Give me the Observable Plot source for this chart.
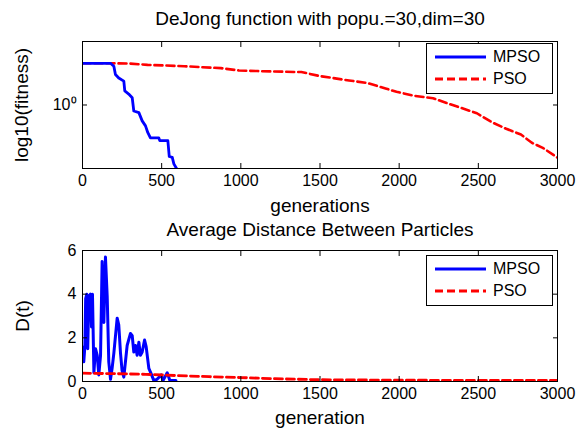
<!DOCTYPE html>
<html>
<head>
<meta charset="utf-8">
<script src="https://cdn.jsdelivr.net/npm/d3@7"></script>
<script src="https://cdn.jsdelivr.net/npm/@observablehq/plot@0.6"></script>
<style>
  body { margin: 0; background: #fff; }
  #wrap { position: relative; width: 576px; height: 430px; background: #fff; font-family: "Liberation Sans", Arial, sans-serif; color: #000; }
  .abs { position: absolute; white-space: nowrap; }
  .title { font-size: 19px; transform: translate(-50%, -50%); }
  .xlab { font-size: 19px; transform: translate(-50%, -50%); }
  .ylab { font-size: 19px; transform: translate(-50%, -50%) rotate(-90deg); }
  .legend { position: absolute; border: 1px solid #000; background: #fff; box-sizing: border-box; }
  .legend .row { position: absolute; left: 8px; font-size: 16px; display: flex; align-items: center; }
  .legend svg { display: block; margin-right: 6px; }
  .plot { position: absolute; left: 0; }
</style>
</head>
<body>
<div id="wrap"></div>
<script>
// ---- data: top panel (fitness, log scale) ----
const mpsoFitGen = [0,177,198,208,229,261,267,292,314,324,356,377,398,412,429,482,488,539,548,567,577,594,605];
const mpsoFit    = [2.13,2.13,2.02,1.74,1.63,1.54,1.29,1.22,1.14,0.897,0.871,0.750,0.685,0.608,0.550,0.550,0.524,0.524,0.393,0.387,0.344,0.316,0.29];
const psoFitGen  = [0,180,296,411,642,874,989,1105,1336,1382,1498,1567,1683,1798,1914,1983,2098,2214,2306,2399,2491,2584,2676,2769,2838,2907,3000];
const psoFit     = [2.13,2.13,2.12,2.07,2.02,1.95,1.87,1.85,1.82,1.82,1.69,1.64,1.56,1.49,1.35,1.27,1.18,1.13,1.03,0.942,0.861,0.733,0.650,0.585,0.504,0.460,0.385];

// ---- data: bottom panel (average distance D(t)) ----
const mpsoDGen = [0,4,8,15,20,27,33,40,50,57,63,72,82,93,103,114,124,135,145,156,166,177,187,198,219,229,240,250,261,282,303,314,324,335,345,356,366,377,392,402,419,434,450,471,497,509,535,552,590];
const mpsoD    = [1.2,1.57,0.9,1.6,3.8,4.0,1.5,3.9,4.0,2.5,4.0,0.4,1.5,1.2,0.3,1.2,5.5,2.7,5.7,3.9,0.9,0.1,0.6,1.3,2.9,2.6,1.3,0.5,0.2,1.65,2.2,2.1,1.35,1.65,1.2,1.8,1.2,1.35,1.9,1.6,0.6,0.35,0.05,0.1,0.3,0.05,0.4,0.05,0.05];
const psoDGen  = [0,200,400,600,800,1000,1200,1500,2000,2500,3000];
const psoD     = [0.38,0.36,0.33,0.27,0.22,0.18,0.13,0.08,0.06,0.05,0.05];

// ---- text ----
const title1 = "DeJong function with popu.=30,dim=30";
const title2 = "Average Distance Between Particles";
const xLabel1 = "generations";
const xLabel2 = "generation";
const yLabel1 = "log10(fitness)";
const yLabel2 = "D(t)";
const seriesNames = ["MPSO", "PSO"];
const xTicks = [0,500,1000,1500,2000,2500,3000];
const yTicks1 = [1];
const yTicks2 = [0,2,4,6];

const zip = (xs, ys) => xs.map((x, i) => ({x, y: ys[i]}));
const blue = "#0000ff", red = "#ff0000";
const font = "Liberation Sans, Arial, sans-serif";

function inwardAxes(yTicks, yFmt) {
  return [
    Plot.axisX(xTicks, {anchor: "bottom", tickSize: -5, tickFormat: () => "", stroke: "#000", label: null}),
    Plot.axisX(xTicks, {anchor: "top", tickSize: -5, tickFormat: () => "", stroke: "#000", label: null}),
    Plot.axisX(xTicks, {anchor: "bottom", tickSize: 0, tickPadding: 6, tickFormat: d => String(d), fontSize: 16, fill: "#000", label: null}),
    Plot.axisY(yTicks, {anchor: "left", tickSize: -5, tickFormat: () => "", stroke: "#000", label: null}),
    Plot.axisY(yTicks, {anchor: "right", tickSize: -5, tickFormat: () => "", stroke: "#000", label: null}),
    Plot.axisY(yTicks, {anchor: "left", tickSize: 0, tickPadding: 6, tickFormat: yFmt, fontSize: 16, fill: "#000", label: null})
  ];
}

const topPlot = Plot.plot({
  width: 576, height: 215,
  marginLeft: 82, marginRight: 19, marginTop: 41, marginBottom: 47,
  style: {fontFamily: font, background: "transparent", overflow: "visible"},
  x: {domain: [0, 3000]},
  y: {type: "log", domain: [0.3162, 3.162]},
  marks: [
    Plot.line(zip(psoFitGen, psoFit), {x: "x", y: "y", stroke: red, strokeWidth: 2.6, strokeDasharray: "8,4", clip: true}),
    Plot.line(zip(mpsoFitGen, mpsoFit), {x: "x", y: "y", stroke: blue, strokeWidth: 2.8, clip: true}),
    Plot.frame({stroke: "#000", strokeWidth: 1}),
    ...inwardAxes(yTicks1, () => "10⁰")
  ]
});

const bottomPlot = Plot.plot({
  width: 576, height: 215,
  marginLeft: 82, marginRight: 19, marginTop: 35, marginBottom: 49,
  style: {fontFamily: font, background: "transparent", overflow: "visible"},
  x: {domain: [0, 3000]},
  y: {domain: [0, 6]},
  marks: [
    Plot.line(zip(mpsoDGen, mpsoD), {x: "x", y: "y", stroke: blue, strokeWidth: 3, clip: true}),
    Plot.line(zip(psoDGen, psoD), {x: "x", y: "y", stroke: red, strokeWidth: 2.8, strokeDasharray: "8,4", clip: true}),
    Plot.frame({stroke: "#000", strokeWidth: 1}),
    ...inwardAxes(yTicks2, d => String(d))
  ]
});

const wrap = document.getElementById("wrap");
topPlot.classList.add("plot"); topPlot.style.top = "0px";
bottomPlot.classList.add("plot"); bottomPlot.style.top = "215px";
wrap.appendChild(topPlot);
wrap.appendChild(bottomPlot);

function addText(cls, text, x, y) {
  const d = document.createElement("div");
  d.className = "abs " + cls;
  d.textContent = text;
  d.style.left = x + "px"; d.style.top = y + "px";
  wrap.appendChild(d);
}
addText("title", title1, 320, 19);
addText("xlab", xLabel1, 320, 206);
addText("ylab", yLabel1, 22, 105);
addText("title", title2, 320, 230);
addText("xlab", xLabel2, 320, 418);
addText("ylab", yLabel2, 23, 316);

function addLegend(left, topPx) {
  const box = document.createElement("div");
  box.className = "legend";
  box.style.left = left + "px"; box.style.top = topPx + "px";
  box.style.width = "127px"; box.style.height = "51px";
  const styles = [{c: blue, dash: null, w: 3}, {c: red, dash: "8,4", w: 2.8}];
  seriesNames.forEach((name, i) => {
    const row = document.createElement("div");
    row.className = "row";
    row.style.left = "6px";
    row.style.top = (i === 0 ? 3 : 25) + "px";
    const s = styles[i];
    row.innerHTML = `<svg width="54" height="20"><line x1="2" y1="10" x2="53" y2="10" stroke="${s.c}" stroke-width="${s.w}" ${s.dash ? `stroke-dasharray="${s.dash}"` : ""}/></svg><span>${name}</span>`;
    box.appendChild(row);
  });
  wrap.appendChild(box);
}
addLegend(426, 43);
addLegend(426, 255);
</script>
</body>
</html>
